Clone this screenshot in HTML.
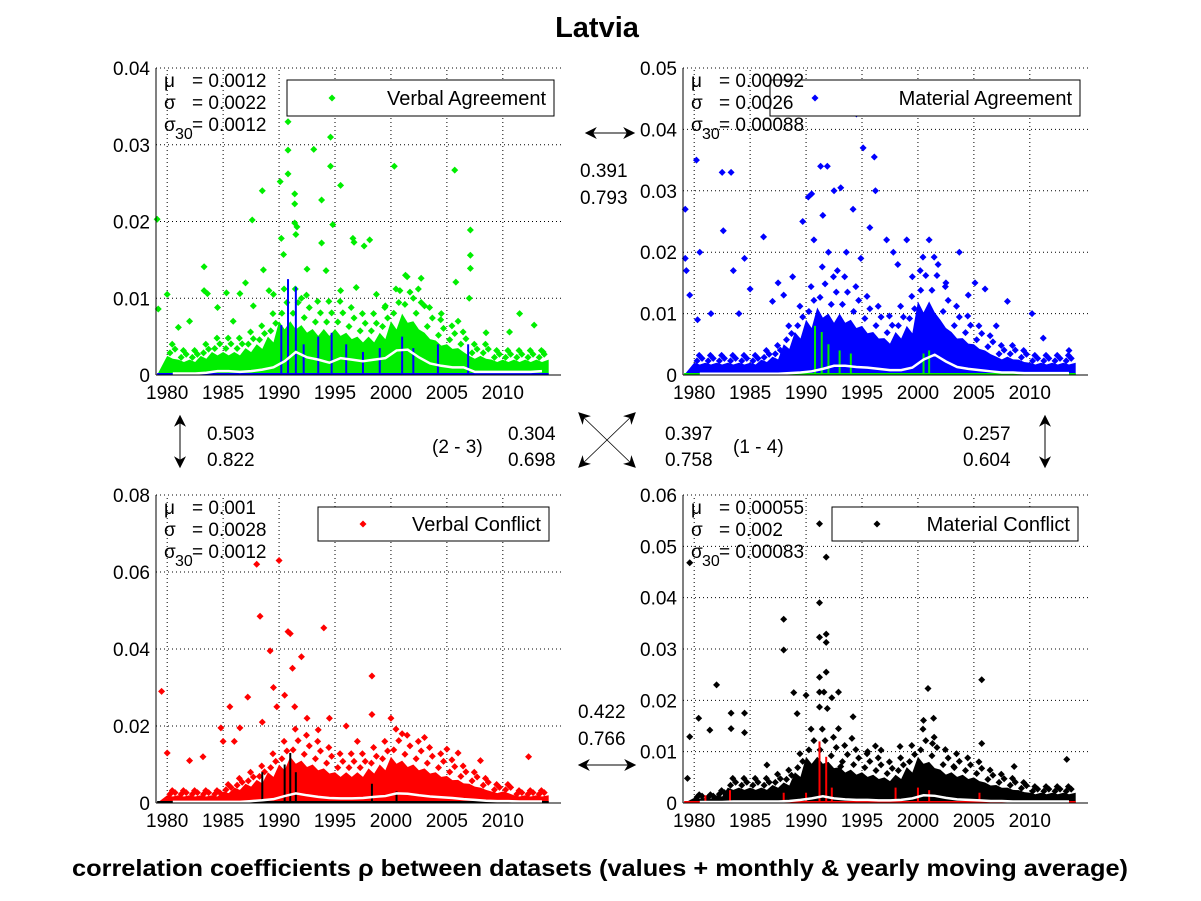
<!DOCTYPE html>
<html><head><meta charset="utf-8">
<style>
body{margin:0;background:#fff;}
svg{display:block;font-family:"Liberation Sans",sans-serif;}
</style></head>
<body>
<svg id="chart" width="1201" height="901" viewBox="0 0 1201 901">
<defs>
<marker id="ah" viewBox="0 0 10 10" refX="9" refY="5" markerUnits="userSpaceOnUse" markerWidth="16" markerHeight="12" orient="auto-start-reverse"><path d="M0,0 L10,5 L0,10 L3,5 z" fill="#000"/></marker>
</defs>
<rect width="1201" height="901" fill="#fff"/>
<text x="597" y="37" font-size="29" font-weight="bold" text-anchor="middle">Latvia</text>
<g id="panels"></g>
<g id="annot" font-size="19">
<line x1="586" y1="133" x2="634" y2="133" stroke="#000" marker-start="url(#ah)" marker-end="url(#ah)"/>
<text x="580" y="177">0.391</text><text x="580" y="204">0.793</text>
<line x1="180" y1="416" x2="180" y2="467" stroke="#000" marker-start="url(#ah)" marker-end="url(#ah)"/>
<text x="207" y="440">0.503</text><text x="207" y="466">0.822</text>
<text x="432" y="453">(2 - 3)</text>
<text x="508" y="440">0.304</text><text x="508" y="466">0.698</text>
<line x1="579" y1="413" x2="635" y2="467" stroke="#000" stroke-width="0.8" marker-start="url(#ah)" marker-end="url(#ah)"/>
<line x1="635" y1="413" x2="579" y2="467" stroke="#000" stroke-width="0.8" marker-start="url(#ah)" marker-end="url(#ah)"/>
<text x="665" y="440">0.397</text><text x="665" y="466">0.758</text>
<text x="733" y="453">(1 - 4)</text>
<text x="963" y="440">0.257</text><text x="963" y="466">0.604</text>
<line x1="1045" y1="416" x2="1045" y2="467" stroke="#000" marker-start="url(#ah)" marker-end="url(#ah)"/>
<text x="578" y="718">0.422</text><text x="578" y="745">0.766</text>
<line x1="579" y1="765" x2="635" y2="765" stroke="#000" marker-start="url(#ah)" marker-end="url(#ah)"/>
</g>
<text x="72" y="876" font-size="23" font-weight="bold" textLength="1056" lengthAdjust="spacingAndGlyphs">correlation coefficients ρ between datasets (values + monthly &amp; yearly moving average)</text>
</svg>
<script>
// ---- data (values in units of 0.001) ----
const years = [1980,1981,1982,1983,1984,1985,1986,1987,1988,1989,1990,1991,1992,1993,1994,1995,1996,1997,1998,1999,2000,2001,2002,2003,2004,2005,2006,2007,2008,2009,2010,2011,2012,2013];
const xTicks = [1980,1985,1990,1995,2000,2005,2010];
// Panel 1 Verbal Agreement
const p1Cloud = [2.5,2,2,2.5,3,3,3,3.5,4,5,7,7,6.5,6,6,6,5.5,5,5,5.5,7,8,7,5.5,4.5,4,3.5,2.5,2.5,2,2,2,2,2];
const p1Avg = [0.2,0.2,0.2,0.3,0.5,0.5,0.4,0.5,0.7,1.0,1.8,3.0,2.3,2.0,1.6,2.2,2.0,1.8,2.0,2.2,3.2,3.3,2.3,1.5,1.2,1.0,1.0,0.4,0.4,0.4,0.4,0.4,0.4,0.5];
const p1Out = [[1979.1,20.3],[1980,10.5],[1979.2,8.6],[1981,6.2],[1983.3,14.1],[1983.3,11],[1983.6,10.6],[1987.6,20.2],[1988.5,24],[1988.6,13.7],[1990.1,25.2],[1990.2,17.8],[1990.4,15.7],[1990.8,29.3],[1990.8,26.2],[1990.8,33],[1991.4,22.3],[1991.4,23.6],[1991.4,19.8],[1991.5,18.3],[1991.6,19.3],[1993.1,29.4],[1993.8,22.8],[1993.8,17.2],[1994.6,31],[1994.6,27.2],[1994.8,19.6],[1995.5,24.7],[1996.6,17.8],[1996.7,17.3],[1997.6,16.8],[1998.1,17.6],[2000.3,27.2],[2001.3,13],[2005.7,26.7],[2005.8,12.1],[2007.1,18.9],[2007.1,15.6],[2007.1,13.9],[2007,10],[2002.7,12.6],[2011.5,8],[2010.6,5.6],[1992.5,13.8],[1994.2,13.6],[1985.3,10.7],[1987,12],[1989.1,11],[1982,7],[1984.5,8.8],[1985.9,7],[1986.5,10.6],[1987.7,9],[1989.5,10.5],[1992,10],[1995.5,11],[1996.9,11.4],[1998.7,10.5],[1999.5,9],[2000.8,11],[2002,10],[2003,9],[2004.5,8],[2006,7],[2008.5,5.5],[2012.8,6.5],[2013.6,3]];
const p1Spikes = [[1990.2,6.5],[1990.8,12.5],[1991.5,11.5],[1992.2,4],[1993.5,5],[1994.7,5.5],[1996,4],[1997.5,3],[1999,3.5],[2001,5],[2002,3.5],[2004.2,4],[2006.9,4]];
// Panel 2 Material Agreement
const p2Cloud = [2,2,2,2,2,2,2.5,3,5,7,9,11,10,10,9,8,7,6,7,8,12,12,9,7,6,5,4,3,3,2.5,2,2,2,2];
const p2Avg = [0.2,0.2,0.2,0.2,0.2,0.2,0.2,0.2,0.3,0.4,0.6,1.0,1.5,1.5,1.3,1.2,1.0,0.8,0.8,1.2,2.5,3.3,2.2,1.3,1.0,0.8,0.6,0.4,0.4,0.3,0.3,0.3,0.3,0.3];
const p2Out = [[1979.2,27],[1979.3,17],[1979.2,19],[1979.6,13],[1980.2,35],[1980.5,20],[1980.3,9],[1982.5,33],[1983.3,33],[1982.6,23.5],[1983.5,17],[1984.5,19],[1986.2,22.5],[1987.5,15],[1988,13],[1989.7,25],[1990.2,29],[1990.5,29.5],[1990.7,22],[1991.3,34],[1991.5,26],[1991.9,34],[1992.5,30],[1992,20],[1993.1,30.5],[1993.6,20],[1994.5,42.5],[1994.2,27],[1995.1,37],[1996.1,35.5],[1996.2,30],[1995.7,24],[1997.2,22],[1997.8,20],[1998.2,18],[1999,22],[2000.2,17],[2001,22],[2001.8,18],[2003.7,20],[2004.5,13],[2005.1,15],[2006,14],[2008,12],[2010.2,10],[1985,14],[1987,12],[1981.5,10],[1984,10],[1988.8,16],[1992.8,17],[1994.9,19],[1999.5,16],[2002.5,15],[2007,8],[2011.2,6],[2013.5,4]];
const p2Spikes = [[1990.8,8],[1991.4,7],[1992,5],[1993,4],[1994,3.5],[2000.5,3.5],[2001,4]];
// Panel 3 Verbal Conflict
const p3Cloud = [2,2,2,2,2,3,4,5,6,8,10,12,11,10,9,8,8,8,9,10,12,11,10,9,8,7,6,5,4,3,3,2,2,2];
const p3Avg = [0.3,0.3,0.3,0.3,0.3,0.3,0.3,0.5,0.7,1.0,1.8,2.5,2.0,1.6,1.3,1.2,1.2,1.3,1.6,1.8,2.5,2.4,2.0,1.7,1.5,1.3,1.0,0.8,0.6,0.5,0.5,0.4,0.4,0.4];
const p3Out = [[1979.5,29],[1980,13],[1982,11],[1983.2,12],[1984.8,19.5],[1985,16],[1985.6,25],[1986.5,19.5],[1987.2,27.5],[1988,62],[1988.3,48.5],[1989.2,39.5],[1989.5,30],[1990,63],[1990.5,28],[1990.8,44.5],[1991,44],[1991.2,35],[1991.4,25],[1992,38],[1993.5,19],[1994,45.5],[1994.5,22],[1996,20],[1998.3,33],[1998.3,23],[1997,16],[2000,22],[2001,18],[2003,17],[2005,14],[2006,13],[2008,11],[2012.3,12],[1986,16],[1988.5,21],[1989.8,25],[1992.5,22]];
const p3Spikes = [[1988.5,8],[1990.5,10],[1991,13],[1991.5,8],[1998.3,5],[2000.5,3]];
// Panel 4 Material Conflict
const p4Cloud = [1,1,1.5,3,3,3,3,3.5,4,6,9,9,8,7,6.5,6,5.5,5,5.5,7,9,8,6.5,6,5.5,5,4,3.5,3,2.5,2,2,2,2];
const p4Avg = [0.2,0.2,0.2,0.3,0.3,0.3,0.3,0.3,0.4,0.6,0.9,1.3,0.9,0.7,0.6,0.6,0.5,0.5,0.6,0.9,1.5,1.4,1.0,0.7,0.6,0.5,0.4,0.4,0.3,0.3,0.3,0.3,0.3,0.3];
const p4Out = [[1979.4,4.8],[1979.6,12.9],[1979.6,46.8],[1980.4,16.5],[1981.4,14.2],[1982,23],[1983.3,17.5],[1983.3,14.5],[1984.5,17.5],[1984.5,13.7],[1988,35.8],[1988,29.8],[1988.9,21.5],[1989.2,17.4],[1990,21],[1991.2,54.4],[1991.8,47.9],[1991.2,39],[1991.2,32.3],[1991.8,32.9],[1991.8,31.3],[1991.2,24.5],[1991.8,25.5],[1991.2,21.6],[1991.6,21.6],[1992.3,20.5],[1992.9,21.6],[1991.2,18.7],[1991.9,18.4],[1992.9,14.5],[1994.2,16.8],[1994.1,12.6],[1996.2,11.1],[1995.5,10],[1998.4,11],[2000.9,22.3],[2000.5,16.1],[2001.4,16.5],[2001.3,11.6],[2005.7,24],[2005.7,11.6],[2013.3,8.5],[2008.6,7.1],[2003.2,7.1],[1986.5,7.4],[1993.1,7.1],[1996.7,10.3]];
const p4Spikes = [[1981,1.5],[1983.2,2.5],[1988,2],[1990,2],[1991.2,12],[1991.8,9],[1992.3,3],[1998,3],[2000,3],[2001,2.5],[2005.5,2]];

const yTicks1=[0,0.01,0.02,0.03,0.04], yTicks2=[0,0.01,0.02,0.03,0.04,0.05], yTicks3=[0,0.02,0.04,0.06,0.08], yTicks4=[0,0.01,0.02,0.03,0.04,0.05,0.06];

const panels=[
 {name:'verbal-agreement',x0:156,x1:561,y0:375,y1:68,ymax:40,color:'#00ee00',spike:'#0000ff',cloud:p1Cloud,avg:p1Avg,out:p1Out,spikes:p1Spikes,ticks:yTicks1,label:'Verbal Agreement',stats:['0.0012','0.0022','0.0012'],leg:[287,80,267,36]},
 {name:'material-agreement',x0:683,x1:1088,y0:375,y1:68,ymax:50,color:'#0000ff',spike:'#00ee00',cloud:p2Cloud,avg:p2Avg,out:p2Out,spikes:p2Spikes,ticks:yTicks2,label:'Material Agreement',stats:['0.00092','0.0026','0.00088'],leg:[770,80,310,36]},
 {name:'verbal-conflict',x0:156,x1:561,y0:803,y1:495,ymax:80,color:'#ff0000',spike:'#000000',cloud:p3Cloud,avg:p3Avg,out:p3Out,spikes:p3Spikes,ticks:yTicks3,label:'Verbal Conflict',stats:['0.001','0.0028','0.0012'],leg:[318,507,231,34]},
 {name:'material-conflict',x0:683,x1:1088,y0:803,y1:495,ymax:60,color:'#000000',spike:'#ff0000',cloud:p4Cloud,avg:p4Avg,out:p4Out,spikes:p4Spikes,ticks:yTicks4,label:'Material Conflict',stats:['0.00055','0.002','0.00083'],leg:[832,507,246,34]}
];
const NS='http://www.w3.org/2000/svg';
function mk(tag,attrs,parent){const e=document.createElementNS(NS,tag);for(const k in attrs)e.setAttribute(k,attrs[k]);if(parent)parent.appendChild(e);return e;}
const root=document.getElementById('panels');
function diamond(g,x,y,c){mk('path',{d:`M${x-3.5},${y}L${x},${y-3.5}L${x+3.5},${y}L${x},${y+3.5}Z`,fill:c},g);}
panels.forEach(p=>{
 const g=mk('g',{},root);
 
 
 const X=yr=>p.x0+(yr-1979)*(p.x1-p.x0)/(2015.2-1979);
 const Y=v=>p.y0-v/p.ymax*(p.y0-p.y1);
 xTicks.forEach(t=>{mk('line',{x1:X(t),x2:X(t),y1:p.y0,y2:p.y1,stroke:'#000','stroke-width':1,'stroke-dasharray':'1,3'},g);
  const tl=mk('text',{x:X(t),y:p.y0+24,'font-size':19,'text-anchor':'middle'},g);tl.textContent=t;
  
  });
 p.ticks.forEach(t=>{const v=t*1000;const yy=Y(v);
  if(t>0)mk('line',{x1:p.x0,x2:p.x1,y1:yy,y2:yy,stroke:'#000','stroke-width':1,'stroke-dasharray':'1,3'},g);
  const tl=mk('text',{x:p.x0-6,y:yy+7,'font-size':19,'text-anchor':'end'},g);tl.textContent=t===0?'0':String(t);
  
  });
 let d=`M${X(1979.1)},${Y(0)}`;
 years.forEach((yr,i)=>{d+=`L${X(yr)},${Y(p.cloud[i])}L${X(yr+0.5)},${Y(p.cloud[i]*0.85)}`;});
 d+=`L${X(2014.1)},${Y(p.cloud[p.cloud.length-1])}L${X(2014.1)},${Y(0)}Z`;
 const cl=mk('path',{d:d,fill:p.color},g);
 
 
 const fg=mk('g',{},g);
 
 
 years.forEach((yr,i)=>{diamond(fg,X(yr+0.25),Y(p.cloud[i]*1.15),p.color);diamond(fg,X(yr+0.7),Y(p.cloud[i]*1.35),p.color);diamond(fg,X(yr+0.45),Y(p.cloud[i]*1.6),p.color);});
 const og=mk('g',{},g);
 
 
 p.out.forEach(o=>diamond(og,X(o[0]),Y(o[1]),p.color));
 const sg=mk('g',{},g);
 
 
 mk('line',{x1:X(1979.1),x2:X(2014.1),y1:Y(0)-1,y2:Y(0)-1,stroke:p.spike,'stroke-width':2},sg);
 p.spikes.forEach(s=>mk('line',{x1:X(s[0]),x2:X(s[0]),y1:Y(0),y2:Y(s[1]),stroke:p.spike,'stroke-width':2},sg));
 const pts=years.map((yr,i)=>`${X(yr+0.5)},${Y(p.avg[i])}`).join(' ');
 const al=mk('polyline',{points:pts,fill:'none',stroke:'#fff','stroke-width':2.5},g);
 
 
 mk('line',{x1:p.x0,x2:p.x0,y1:p.y1,y2:p.y0,stroke:'#000'},g);
 mk('line',{x1:p.x0,x2:p.x1,y1:p.y0,y2:p.y0,stroke:'#000'},g);
 const lg=mk('g',{},g);
 
 
 mk('rect',{x:p.leg[0],y:p.leg[1],width:p.leg[2],height:p.leg[3],fill:'#fff',stroke:'#000'},lg);
 diamond(lg,p.leg[0]+45,p.leg[1]+p.leg[3]/2,p.color);
 let t=mk('text',{x:p.leg[0]+p.leg[2]-8,y:p.leg[1]+p.leg[3]/2+7,'font-size':20,'text-anchor':'end'},lg);t.textContent=p.label;
 const st=mk('g',{'font-size':19},g);
 
 
 const sx=p.x0+8, sy=p.y1+19;
 t=mk('text',{x:sx,y:sy},st);t.textContent='μ';
 t=mk('text',{x:sx+28,y:sy},st);t.textContent='= '+p.stats[0];
 t=mk('text',{x:sx,y:sy+22},st);t.textContent='σ';
 t=mk('text',{x:sx+28,y:sy+22},st);t.textContent='= '+p.stats[1];
 t=mk('text',{x:sx,y:sy+44},st);t.textContent='σ';
 t=mk('text',{x:sx+11,y:sy+52,'font-size':16},st);t.textContent='30';
 t=mk('text',{x:sx+28,y:sy+44},st);t.textContent='= '+p.stats[2];
});
</script>
</body></html>
